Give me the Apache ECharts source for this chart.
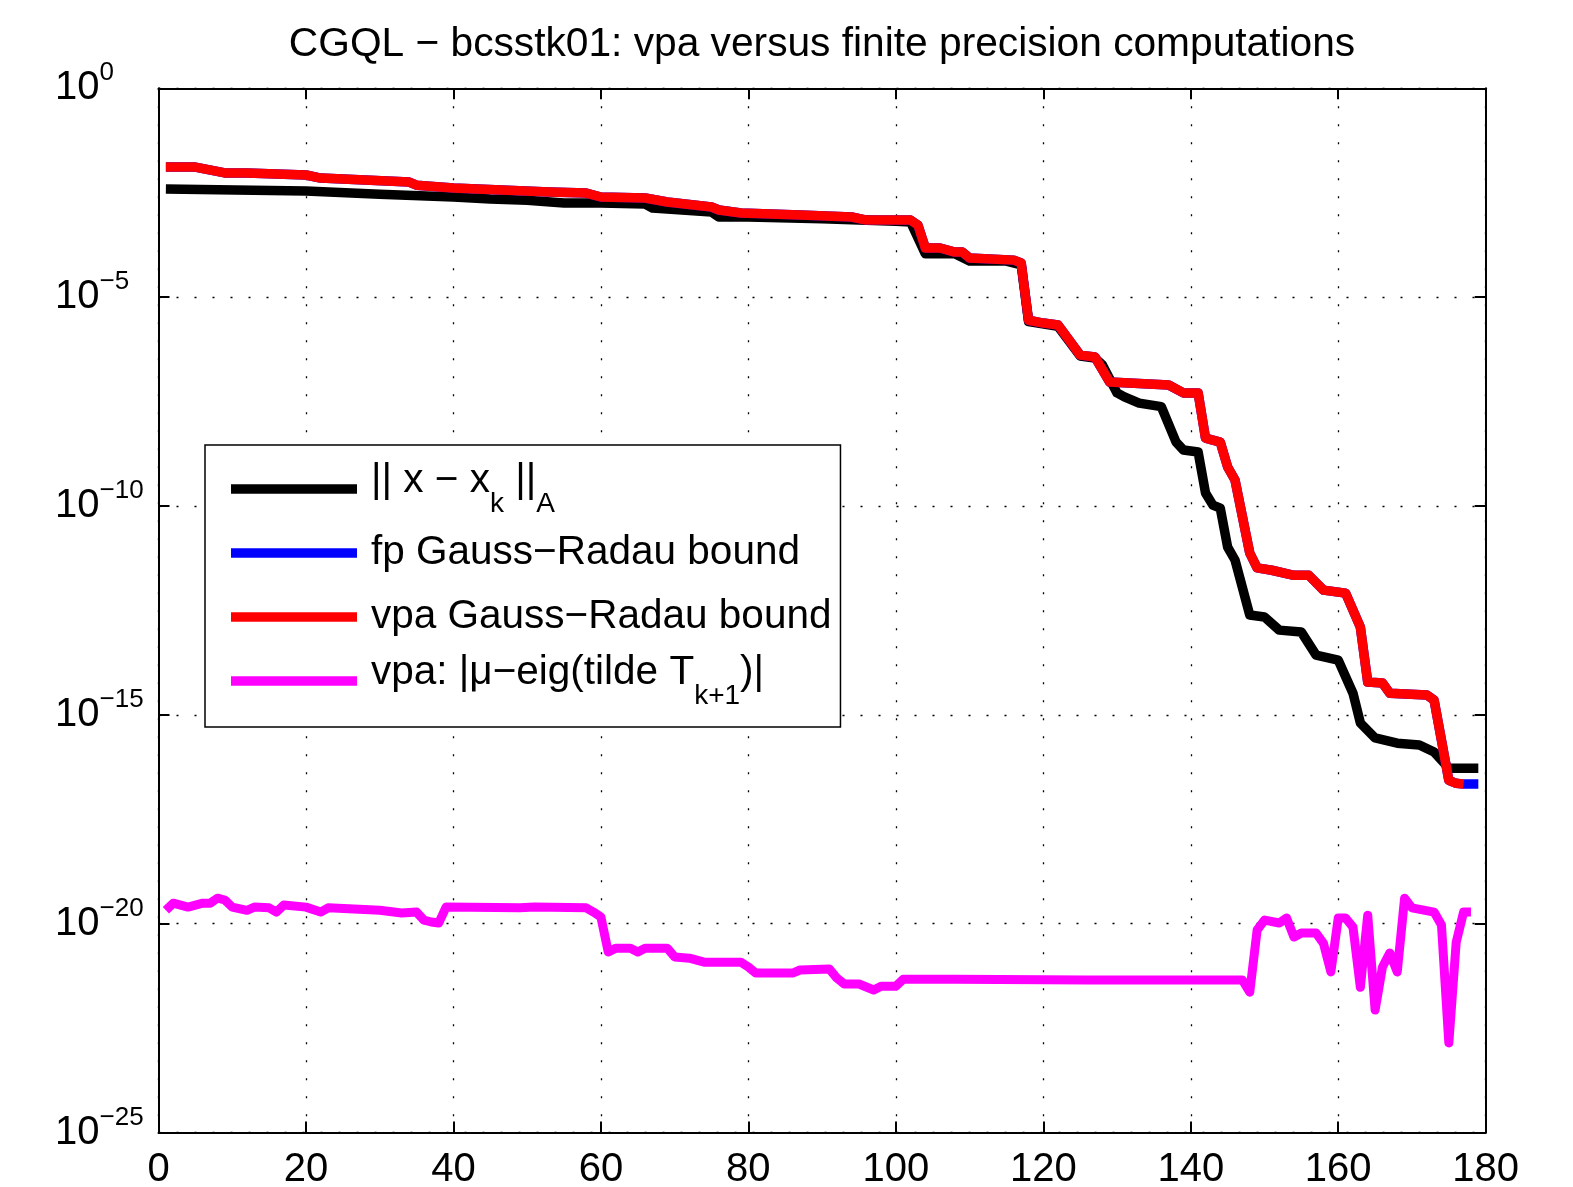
<!DOCTYPE html>
<html>
<head>
<meta charset="utf-8">
<script src="https://cdn.jsdelivr.net/npm/echarts@6/dist/echarts.min.js"></script>
<style>
html,body{margin:0;padding:0;background:#fff;}
#chart{width:1573px;height:1187px;}
</style>
</head>
<body>
<div id="chart"></div>
<script>
// ---- data (iteration k, value) ----
const errANorm = [[1,3.9e-3],[20,3.5e-3],[30,2.9e-3],[40,2.5e-3],[45,2.24e-3],[50,2.1e-3],[55,1.8e-3],[60,1.8e-3],[66,1.7e-3],[67,1.36e-3],[75,1.09e-3],[76,8.3e-4],[80,8.3e-4],[90,7.5e-4],[100,6.6e-4],[102,6.3e-4],[104,1.1e-4],[108,1.1e-4],[110,7.3e-5],[115,7.3e-5],[117,5.9e-5],[118,2.6e-6],[122,2.0e-6],[125,3.9e-7],[127,3.5e-7],[128,2.4e-7],[130,5.1e-8],[131,4.1e-8],[133,2.9e-8],[136,2.4e-8],[138,3.4e-9],[139,2.2e-9],[141,1.96e-9],[142,2.05e-10],[143,1.05e-10],[144,8.9e-11],[145,1.04e-11],[146,5.1e-12],[148,2.45e-13],[150,2.2e-13],[152,1.07e-13],[155,9.6e-14],[157,2.7e-14],[160,2.05e-14],[162,3.3e-15],[163,6.4e-16],[165,2.8e-16],[168,2.1e-16],[171,1.9e-16],[173,1.29e-16],[175,5.3e-17],[179,5.3e-17]];

const vpaBound = [[1,1.3e-2],[5,1.3e-2],[9,9.4e-3],[12,9.4e-3],[20,8.4e-3],[22,7.1e-3],[34,5.7e-3],[35,4.8e-3],[40,4.1e-3],[53,3.3e-3],[58,3.1e-3],[60,2.5e-3],[66,2.36e-3],[69,1.9e-3],[75,1.44e-3],[76,1.22e-3],[79,1.03e-3],[87,9.3e-4],[94,8.3e-4],[96,7.0e-4],[102,7.0e-4],[103,5.3e-4],[104,1.5e-4],[106,1.5e-4],[108,1.2e-4],[109,1.2e-4],[110,8.7e-5],[116,7.7e-5],[117,6.6e-5],[118,2.8e-6],[120,2.4e-6],[122,2.15e-6],[125,4.1e-7],[127,3.7e-7],[129,9.3e-8],[137,7.9e-8],[139,5.1e-8],[141,5.1e-8],[142,4.2e-9],[144,3.4e-9],[145,8.6e-10],[146,4.2e-10],[148,7.5e-12],[149,3.3e-12],[151,2.9e-12],[154,2.2e-12],[156,2.2e-12],[158,9.7e-13],[161,8.2e-13],[163,1.26e-13],[164,6.1e-15],[166,5.8e-15],[167,3.3e-15],[172,3.0e-15],[173,2.26e-15],[175,2.7e-17],[176,2.3e-17],[177,2.2e-17]];

const fpBoundTail = [[177,2.2e-17],[179,2.2e-17]];
const fpBound = vpaBound.slice(0, -1).concat(fpBoundTail);

const eigDist = [[1,2.1e-20],[2,3.1e-20],[4,2.5e-20],[6,3.1e-20],[7,3.1e-20],[8,4.1e-20],[9,3.7e-20],[10,2.5e-20],[12,2.1e-20],[13,2.5e-20],[15,2.4e-20],[16,1.9e-20],[17,2.8e-20],[20,2.5e-20],[22,1.9e-20],[23,2.4e-20],[30,2.1e-20],[33,1.8e-20],[35,1.9e-20],[36,1.22e-20],[37,1.1e-20],[38,1.04e-20],[39,2.5e-20],[49,2.4e-20],[51,2.5e-20],[58,2.4e-20],[59,1.9e-20],[60,1.45e-20],[61,2.1e-21],[62,2.6e-21],[64,2.6e-21],[65,2.1e-21],[66,2.6e-21],[69,2.6e-21],[70,1.6e-21],[72,1.5e-21],[74,1.2e-21],[79,1.2e-21],[80,9.2e-22],[81,6.6e-22],[86,6.6e-22],[87,7.8e-22],[91,8.2e-22],[92,5.0e-22],[93,3.6e-22],[95,3.6e-22],[97,2.6e-22],[98,3.2e-22],[100,3.2e-22],[101,4.7e-22],[108,4.7e-22],[126,4.5e-22],[147,4.5e-22],[148,2.3e-22],[149,7.1e-21],[150,1.22e-20],[152,1.04e-20],[153,1.37e-20],[154,4.8e-21],[155,6.0e-21],[157,6.0e-21],[158,3.4e-21],[159,7.0e-22],[160,1.37e-20],[161,1.37e-20],[162,8.3e-21],[163,3.0e-22],[164,1.6e-20],[165,8.6e-23],[166,9.2e-22],[167,2.0e-21],[168,7.0e-22],[169,4.1e-20],[170,2.4e-20],[173,1.9e-20],[174,9.3e-21],[175,1.4e-23],[176,3.6e-21],[177,1.9e-20],[178,1.9e-20]];

const yTickValues = [1e-25, 1e-20, 1e-15, 1e-10, 1e-5, 1];
const seriesNames = ['errA', 'fpGR', 'vpaGR', 'eig'];
const legendLabels = {
  errA: '{z| }{m||| x − x}{s|k}{m| ||}{s|A}',
  fpGR: '{z| }{c|fp Gauss−Radau bound}',
  vpaGR: '{z| }{c|vpa Gauss−Radau bound}',
  eig: '{z| }{m|vpa: |μ−eig(tilde T}{s|k+1}{m|)|}'
};
const titleText = 'CGQL − bcsstk01: vpa versus finite precision computations';
const xMin = 0, xMax = 180, xStep = 20;
const yMin = 1e-25, yMax = 1;

// ---- chart ----
const FONT = 'Liberation Sans, Arial, Helvetica, sans-serif';
const chart = echarts.init(document.getElementById('chart'), null, {renderer: 'canvas'});

function yLabel(v) {
  const e = Math.round(Math.log10(v));
  const es = e === 0 ? '0' : '−' + (-e);
  return '{b|10}{e|' + es + '}';
}

const gridDots = {type: [2, 16], color: '#000', width: 1.3};
const LW = 9.5;

const option = {
  animation: false,
  backgroundColor: '#fff',
  title: {
    text: titleText,
    left: 822,
    top: 24,
    textAlign: 'center',
    padding: 0,
    textStyle: {fontFamily: FONT, fontSize: 40.7, fontWeight: 'normal', color: '#000'}
  },
  grid: {left: 158.5, right: 87.3, top: 88.3, bottom: 54.4, show: false, containLabel: false, outerBoundsMode: 'none'},
  legend: {
    data: seriesNames,
    orient: 'vertical',
    left: 205,
    top: 445,
    padding: [15, 9, 17, 26],
    icon: 'rect',
    itemWidth: 126,
    itemHeight: LW,
    itemGap: 6,
    backgroundColor: '#fff',
    borderColor: '#000',
    borderWidth: 1.5,
    selectedMode: false,
    formatter: function (name) { return legendLabels[name]; },
    textStyle: {
      fontFamily: FONT, color: '#000', fontSize: 40.5, lineHeight: 58,
      rich: {
        z: {fontSize: 1, width: 9, height: 58, lineHeight: 58, fontFamily: FONT},
        m: {fontSize: 40.5, lineHeight: 40, verticalAlign: 'top', fontFamily: FONT, color: '#000'},
        s: {fontSize: 28, lineHeight: 18, verticalAlign: 'bottom', fontFamily: FONT, color: '#000'},
        c: {fontSize: 40.5, lineHeight: 58, height: 58, verticalAlign: 'middle', fontFamily: FONT, color: '#000'}
      }
    }
  },
  xAxis: [{
    type: 'value', min: xMin, max: xMax, interval: xStep,
    position: 'bottom',
    axisLine: {show: true, onZero: false, lineStyle: {color: '#000', width: 2}},
    axisTick: {show: true, inside: true, length: 11, lineStyle: {color: '#000', width: 2}},
    axisLabel: {show: true, margin: 17, fontFamily: FONT, fontSize: 40, color: '#000'},
    splitLine: {show: true, lineStyle: gridDots}
  }, {
    type: 'value', min: xMin, max: xMax, interval: xStep,
    position: 'top',
    axisLine: {show: true, onZero: false, lineStyle: {color: '#000', width: 2}},
    axisTick: {show: true, inside: true, length: 11, lineStyle: {color: '#000', width: 2}},
    axisLabel: {show: false},
    splitLine: {show: false}
  }],
  yAxis: [{
    type: 'log', logBase: 10, min: yMin, max: yMax,
    position: 'left',
    axisLine: {show: true, onZero: false, lineStyle: {color: '#000', width: 2}},
    axisTick: {show: true, inside: true, length: 11, customValues: yTickValues, lineStyle: {color: '#000', width: 2}},
    minorTick: {show: false},
    axisLabel: {
      show: true, align: 'left', margin: 103.5, formatter: yLabel, customValues: yTickValues,
      rich: {
        b: {fontFamily: FONT, fontSize: 40, lineHeight: 56, verticalAlign: 'middle', color: '#000'},
        e: {fontFamily: FONT, fontSize: 26, lineHeight: 8, verticalAlign: 'top', color: '#000'}
      }
    },
    splitLine: {show: true, lineStyle: gridDots}
  }, {
    type: 'log', logBase: 10, min: yMin, max: yMax,
    position: 'right',
    axisLine: {show: true, onZero: false, lineStyle: {color: '#000', width: 2}},
    axisTick: {show: true, inside: true, length: 11, customValues: yTickValues, lineStyle: {color: '#000', width: 2}},
    axisLabel: {show: false},
    splitLine: {show: false}
  }],
  series: [
    {name: 'errA', type: 'line', data: errANorm, symbol: 'none', showSymbol: false,
     lineStyle: {color: '#000000', width: LW, join: 'round'}, itemStyle: {color: '#000000'}, z: 2},
    {name: 'fpGR', type: 'line', data: fpBound, symbol: 'none', showSymbol: false,
     lineStyle: {color: '#0000ff', width: LW, join: 'round'}, itemStyle: {color: '#0000ff'}, z: 3},
    {name: 'vpaGR', type: 'line', data: vpaBound, symbol: 'none', showSymbol: false,
     lineStyle: {color: '#ff0000', width: LW, join: 'round'}, itemStyle: {color: '#ff0000'}, z: 4},
    {name: 'eig', type: 'line', data: eigDist, symbol: 'none', showSymbol: false,
     lineStyle: {color: '#ff00ff', width: 9, join: 'round'}, itemStyle: {color: '#ff00ff'}, z: 5}
  ]
};
chart.setOption(option);
</script>
</body>
</html>
